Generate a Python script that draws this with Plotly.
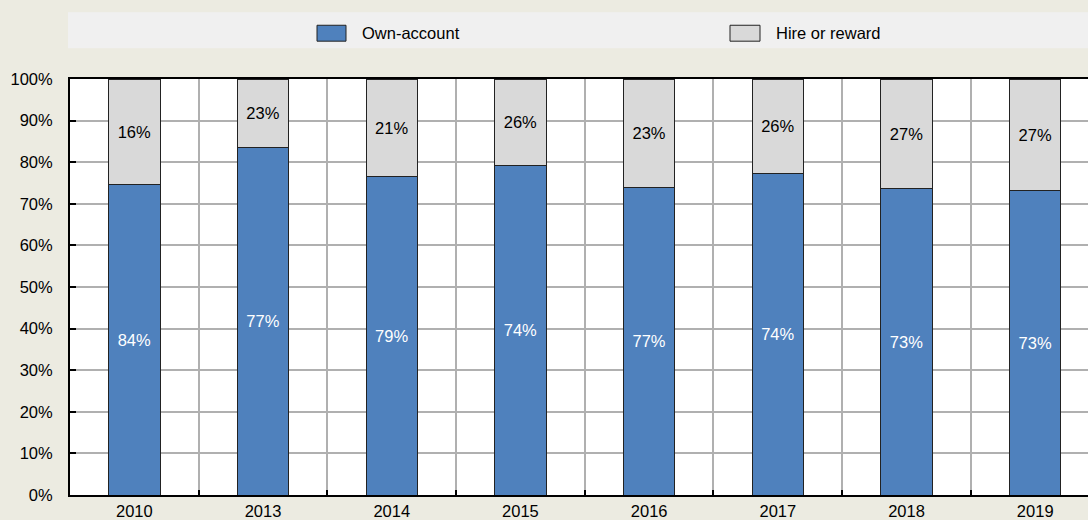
import plotly.graph_objects as go

years = ["2010", "2013", "2014", "2015", "2016", "2017", "2018", "2019"]
own_height = [74.6, 83.6, 76.6, 79.2, 73.8, 77.2, 73.6, 73.2]
hire_height = [100 - v for v in own_height]
own_labels = ["84%", "77%", "79%", "74%", "77%", "74%", "73%", "73%"]
hire_labels = ["16%", "23%", "21%", "26%", "23%", "26%", "27%", "27%"]
series_names = ["Own-account", "Hire or reward"]
y_ticks = list(range(0, 101, 10))
y_tick_text = [f"{v}%" for v in y_ticks]

FONT = "Liberation Sans, Arial, sans-serif"
FS = 16.5
BLUE = "#4f81bd"
GREY = "#d9d9d9"
BG = "#ecebe1"

W, H = 1088, 520
ML, MR, MT, MB = 70, 0, 79, 23
PH = H - MT - MB
PW = W - ML - MR

fig = go.Figure()
fig.add_trace(go.Bar(
    x=years, y=own_height, name=series_names[0], text=own_labels,
    texttemplate="%{text}", textposition="inside", insidetextanchor="middle",
    textangle=0, constraintext="none",
    textfont=dict(color="white", size=FS, family=FONT),
    marker=dict(color=BLUE, line=dict(color="#222222", width=1)),
    width=0.4, showlegend=False, hoverinfo="skip",
))
fig.add_trace(go.Bar(
    x=years, y=hire_height, name=series_names[1], text=hire_labels,
    texttemplate="%{text}", textposition="inside", insidetextanchor="middle",
    textangle=0, constraintext="none",
    textfont=dict(color="black", size=FS, family=FONT),
    marker=dict(color=GREY, line=dict(color="#222222", width=1)),
    width=0.4, showlegend=False, hoverinfo="skip",
))

def py(pix):
    return (H - MB - pix) / PH

def px(pix):
    return (pix - ML) / PW

shapes = [
    dict(type="rect", xref="paper", yref="paper", x0=px(68), x1=1.0,
         y0=py(48), y1=py(12), fillcolor="#f0f0f0", line=dict(width=0), layer="below"),
    dict(type="rect", xref="paper", yref="paper", x0=px(317), x1=px(346),
         y0=py(41), y1=py(25), fillcolor=BLUE, line=dict(color="#222222", width=1)),
    dict(type="rect", xref="paper", yref="paper", x0=px(730), x1=px(760),
         y0=py(41), y1=py(25), fillcolor=GREY, line=dict(color="#222222", width=1)),
]
annotations = [
    dict(xref="paper", yref="paper", x=px(360), y=py(33), text=series_names[0],
         showarrow=False, xanchor="left", yanchor="middle",
         font=dict(size=FS, family=FONT, color="black")),
    dict(xref="paper", yref="paper", x=px(774), y=py(33), text=series_names[1],
         showarrow=False, xanchor="left", yanchor="middle",
         font=dict(size=FS, family=FONT, color="black")),
]

fig.update_layout(
    width=W, height=H, barmode="stack",
    margin=dict(l=ML, r=MR, t=MT, b=MB, pad=0),
    paper_bgcolor=BG, plot_bgcolor="white",
    font=dict(family=FONT, size=FS, color="black"),
    shapes=shapes, annotations=annotations,
    showlegend=False,
)
fig.update_xaxes(
    type="category", range=[-0.5, 7.41],
    tickson="boundaries", ticks="inside", ticklen=5, tickcolor="black", tickwidth=1.5,
    showgrid=True, gridcolor="#b0b0b0", gridwidth=1.5,
    showline=True, linecolor="black", linewidth=2, mirror=True,
    tickfont=dict(size=FS, family=FONT), fixedrange=True,
)
fig.update_yaxes(
    range=[0, 100], tickmode="array", tickvals=y_ticks, ticktext=y_tick_text,
    ticks="inside", ticklen=6, tickcolor="black", tickwidth=1.5,
    showgrid=True, gridcolor="#b0b0b0", gridwidth=1.5,
    showline=True, linecolor="black", linewidth=2,
    zeroline=False, ticklabelstandoff=12,
    tickfont=dict(size=FS, family=FONT), fixedrange=True,
)

fig.write_html(
    "out.html",
    config=dict(displayModeBar=False),
    post_script="document.body.style.margin='0';document.body.style.overflow='hidden';",
)
